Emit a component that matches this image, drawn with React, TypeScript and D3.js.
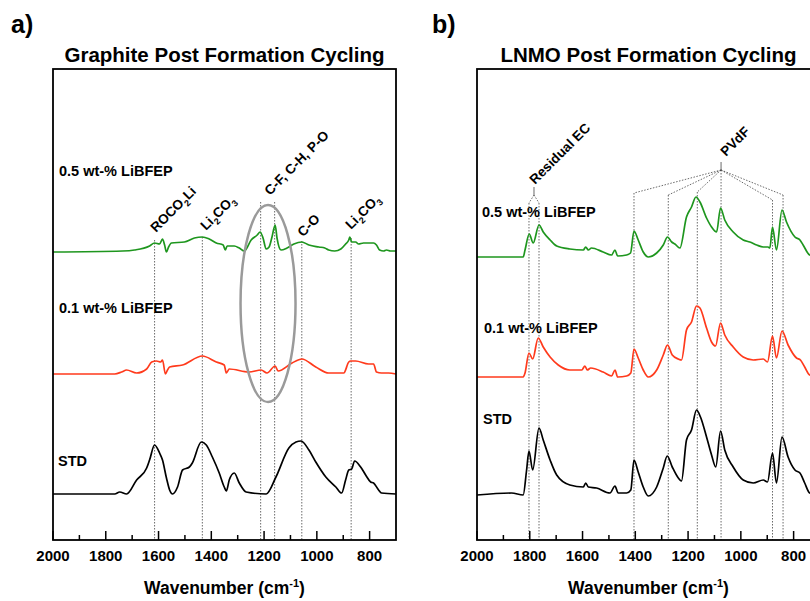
import React from "react";
import * as d3 from "d3";

// ---------- data (wavenumber cm-1, absorbance a.u. incl. stacking offset) ----------
const majorTicks = [2000, 1800, 1600, 1400, 1200, 1000, 800];
const minorTicks = [1900, 1700, 1500, 1300, 1100, 900];

const graphite05: [number, number][] = [
  [2000, 288], [1736, 289], [1691, 290], [1634, 294], [1615, 297], [1596, 296], [1585, 301], [1577, 295],
  [1570, 288], [1562, 293], [1551, 297], [1502, 298], [1464, 302], [1434, 303], [1408, 301], [1381, 297],
  [1355, 295], [1347, 290], [1340, 294], [1313, 294], [1294, 292], [1275, 289], [1249, 300], [1226, 305],
  [1215, 308], [1204, 302], [1192, 291], [1181, 293], [1170, 303], [1158, 315], [1151, 302], [1136, 290],
  [1113, 292], [1087, 296], [1057, 298], [1030, 295], [992, 293], [970, 292], [955, 290], [932, 289],
  [909, 291], [891, 296], [879, 300], [875, 303], [868, 298], [853, 298], [842, 296], [823, 297],
  [785, 297], [774, 295], [762, 290], [747, 289], [736, 290], [721, 289], [700, 289],
];
const graphite01: [number, number][] = [
  [2000, 166], [1766, 166], [1740, 168], [1721, 170], [1683, 167], [1645, 171], [1626, 178], [1608, 179],
  [1592, 178], [1585, 180], [1574, 166], [1566, 170], [1558, 173], [1509, 175], [1434, 184], [1381, 178],
  [1351, 175], [1343, 167], [1332, 171], [1257, 168], [1211, 170], [1189, 167], [1158, 174], [1147, 169],
  [1094, 177], [1057, 181], [1004, 173], [955, 167], [898, 167], [879, 178], [872, 179], [853, 179],
  [804, 176], [785, 176], [774, 168], [755, 167], [728, 167], [700, 166],
];
const graphiteStd: [number, number][] = [
  [2000, 46], [1766, 46], [1747, 48], [1721, 46], [1683, 60], [1645, 72], [1634, 80], [1615, 95],
  [1596, 87], [1585, 80], [1570, 62], [1558, 50], [1547, 46], [1528, 53], [1509, 70], [1483, 73],
  [1472, 77], [1438, 98], [1419, 95], [1396, 83], [1370, 67], [1351, 53], [1343, 49], [1332, 60],
  [1313, 67], [1294, 57], [1268, 48], [1192, 46], [1155, 63], [1106, 92], [1079, 98], [1060, 99],
  [1030, 90], [1004, 78], [966, 63], [928, 53], [906, 47], [891, 60], [879, 70], [868, 71], [857, 79],
  [834, 73], [815, 65], [796, 58], [785, 57], [766, 50], [755, 47], [700, 46],
];
const lnmo05: [number, number][] = [
  [2000, 283], [1825, 283], [1818, 290], [1802, 306], [1787, 297], [1765, 315], [1749, 308], [1723, 300],
  [1698, 294], [1648, 291], [1597, 290], [1588, 293], [1578, 290], [1566, 292], [1522, 288], [1490, 285],
  [1477, 290], [1467, 284], [1433, 285], [1418, 287], [1405, 309], [1389, 300], [1370, 288], [1351, 283],
  [1319, 287], [1294, 295], [1278, 303], [1262, 298], [1250, 296], [1231, 292], [1206, 323], [1187, 333],
  [1170, 343], [1155, 338], [1130, 322], [1111, 313], [1092, 308], [1077, 332], [1061, 320], [1029, 308],
  [991, 300], [966, 298], [940, 295], [915, 293], [897, 293], [890, 292], [880, 313], [865, 290],
  [844, 330], [827, 318], [795, 303], [776, 300], [764, 295], [739, 285], [700, 283],
];
const lnmo01: [number, number][] = [
  [2000, 163], [1825, 163], [1818, 167], [1803, 187], [1789, 181], [1768, 202], [1749, 193], [1723, 183],
  [1692, 175], [1648, 170], [1603, 170], [1591, 174], [1582, 170], [1569, 172], [1522, 168], [1490, 164],
  [1477, 170], [1467, 163], [1433, 164], [1417, 167], [1405, 191], [1389, 182], [1370, 170], [1351, 163],
  [1319, 170], [1294, 185], [1278, 195], [1260, 185], [1237, 181], [1225, 180], [1206, 210], [1187, 218],
  [1168, 234], [1155, 232], [1130, 212], [1111, 198], [1096, 194], [1077, 217], [1061, 205], [1029, 193],
  [991, 183], [953, 180], [915, 181], [899, 178], [880, 204], [865, 182], [844, 209], [821, 195],
  [789, 182], [774, 180], [758, 173], [739, 165], [700, 163],
];
const lnmoStd: [number, number][] = [
  [2000, 45], [1869, 47], [1825, 45], [1812, 70], [1803, 89], [1789, 70], [1765, 112], [1749, 100],
  [1723, 80], [1698, 65], [1648, 55], [1597, 53], [1588, 57], [1578, 53], [1547, 52], [1496, 47],
  [1477, 54], [1465, 47], [1433, 47], [1417, 50], [1405, 80], [1389, 68], [1370, 53], [1351, 44],
  [1319, 53], [1294, 72], [1279, 84], [1260, 73], [1237, 62], [1225, 59], [1206, 100], [1187, 110],
  [1168, 130], [1153, 123], [1130, 103], [1111, 85], [1095, 73], [1077, 109], [1061, 90], [1029, 73],
  [991, 60], [953, 57], [915, 60], [899, 58], [880, 87], [865, 57], [844, 103], [821, 83], [795, 70],
  [776, 67], [758, 57], [739, 47], [700, 45],
];

// annotation markers: [wavenumber, top of dotted guide (a.u.)]
const graphiteMarks: [number, number][] = [
  [1615, 300], [1434, 303], [1213, 338], [1160, 338], [1057, 299], [870, 302],
];
const lnmoResidualMarks: [number, number][] = [[1803, 337], [1765, 337]];
const lnmoPvdfMarks: [number, number][] = [
  [1405, 347], [1275, 345], [1165, 348], [880, 340], [840, 345],
];
const pvdfApex: [number, number] = [1075, 370];
const residualApex: [number, number] = [1784, 345];

const seriesNames = ["0.5 wt-% LiBFEP", "0.1 wt-% LiBFEP", "STD"];
const titles = ["Graphite Post Formation Cycling", "LNMO Post Formation Cycling"];

const GREEN = "#1e961e";
const RED = "#ff3a1c";
const BLACK = "#000";
const FONT = "Arial, 'Liberation Sans', Helvetica, sans-serif";

const TOP = 69;
const BOTTOM = 540;

const y = d3.scaleLinear().domain([0, 471]).range([BOTTOM, TOP]);

function Axis({ x }: { x: d3.ScaleLinear<number, number> }) {
  return (
    <g>
      {majorTicks.map((t) => (
        <g key={"M" + t}>
          <line x1={x(t)} x2={x(t)} y1={BOTTOM} y2={BOTTOM - 9} stroke="#000" strokeWidth={1.5} />
          <text x={x(t)} y={561} textAnchor="middle" fontSize={15} fontWeight="bold" fontFamily={FONT}>
            {t}
          </text>
        </g>
      ))}
      {minorTicks.map((t) => (
        <line key={"m" + t} x1={x(t)} x2={x(t)} y1={BOTTOM} y2={BOTTOM - 5} stroke="#000" strokeWidth={1.5} />
      ))}
      <text x={(x.range()[0] + x.range()[1]) / 2} y={594} textAnchor="middle" fontSize={17.5} fontWeight="bold" fontFamily={FONT}>
        Wavenumber (cm
        <tspan dy={-7} fontSize={11}>-1</tspan>
        <tspan dy={7}>)</tspan>
      </text>
    </g>
  );
}

function Guide({ x, w, top }: { x: d3.ScaleLinear<number, number>; w: number; top: number }) {
  return (
    <line x1={x(w)} x2={x(w)} y1={y(top)} y2={BOTTOM} stroke="#444" strokeWidth={0.8} strokeDasharray="1.5 1.5" />
  );
}

function Rot({ x0, y0, children }: { x0: number; y0: number; children: React.ReactNode }) {
  return (
    <text x={0} y={0} transform={`translate(${x0},${y0}) rotate(-45)`} fontSize={13.6} fontWeight="bold" fontFamily={FONT}>
      {children}
    </text>
  );
}

export default function App() {
  const xA = d3.scaleLinear().domain([2000, 700]).range([53, 396]);
  const xB = d3.scaleLinear().domain([2000, 700]).range([477, 820]);
  const lineA = d3.line<[number, number]>().x((d) => xA(d[0])).y((d) => y(d[1])).curve(d3.curveMonotoneX);
  const lineB = d3.line<[number, number]>().x((d) => xB(d[0])).y((d) => y(d[1])).curve(d3.curveMonotoneX);

  const labelStyle = { fontSize: 14.5, fontWeight: "bold" as const, fontFamily: FONT };

  return (
    <svg width={810} height={601} style={{ position: "absolute", left: 0, top: 0, background: "#fff" }}>
      <rect x={0} y={0} width={810} height={601} fill="#fff" />
      {/* panel tags and titles */}
      <text x={11} y={33} fontSize={25} fontWeight="bold" fontFamily={FONT}>a)</text>
      <text x={432} y={33} fontSize={25} fontWeight="bold" fontFamily={FONT}>b)</text>
      <text x={224.5} y={62} textAnchor="middle" fontSize={20.5} fontWeight="bold" fontFamily={FONT}>{titles[0]}</text>
      <text x={648.5} y={62} textAnchor="middle" fontSize={20.5} fontWeight="bold" fontFamily={FONT}>{titles[1]}</text>

      {/* ---------- panel a ---------- */}
      <g>
        {graphiteMarks.map(([w, t]) => <Guide key={w} x={xA} w={w} top={t} />)}
        <path d={lineA(graphiteStd) || ""} fill="none" stroke={BLACK} strokeWidth={1.7} />
        <path d={lineA(graphite01) || ""} fill="none" stroke={RED} strokeWidth={1.7} />
        <path d={lineA(graphite05) || ""} fill="none" stroke={GREEN} strokeWidth={1.7} />
        <ellipse cx={xA(1185)} cy={y(236.5)} rx={27.5} ry={98.5} fill="none" stroke="#9a9a9a" strokeWidth={2.5} />
        <text x={59} y={176} {...labelStyle}>{seriesNames[0]}</text>
        <text x={59} y={313} {...labelStyle}>{seriesNames[1]}</text>
        <text x={58} y={466} {...labelStyle}>{seriesNames[2]}</text>
        <Rot x0={156} y0={233}>
          ROCO<tspan dy={4} fontSize={9}>2</tspan><tspan dy={-4}>Li</tspan>
        </Rot>
        <Rot x0={206} y0={231}>
          Li<tspan dy={4} fontSize={9}>2</tspan><tspan dy={-4}>CO</tspan><tspan dy={4} fontSize={9}>3</tspan>
        </Rot>
        <Rot x0={270} y0={196}>C-F, C-H, P-O</Rot>
        <Rot x0={303} y0={237.5}>C-O</Rot>
        <Rot x0={351} y0={230}>
          Li<tspan dy={4} fontSize={9}>2</tspan><tspan dy={-4}>CO</tspan><tspan dy={4} fontSize={9}>3</tspan>
        </Rot>
        <rect x={53} y={TOP} width={343} height={BOTTOM - TOP} fill="none" stroke="#000" strokeWidth={1.8} />
        <Axis x={xA} />
      </g>

      {/* ---------- panel b ---------- */}
      <g>
        {lnmoResidualMarks.map(([w, t]) => <Guide key={w} x={xB} w={w} top={t} />)}
        {lnmoPvdfMarks.map(([w, t]) => <Guide key={w} x={xB} w={w} top={t} />)}
        <Guide x={xB} w={pvdfApex[0]} top={pvdfApex[1]} />
        {lnmoResidualMarks.map(([w, t]) => (
          <line key={"r" + w} x1={xB(residualApex[0])} y1={y(residualApex[1])} x2={xB(w)} y2={y(t)} stroke="#444" strokeWidth={0.8} strokeDasharray="1.5 1.5" />
        ))}
        <line x1={xB(residualApex[0])} x2={xB(residualApex[0])} y1={y(residualApex[1])} y2={y(residualApex[1] + 8)} stroke="#444" strokeWidth={0.8} />
        {lnmoPvdfMarks.map(([w, t]) => (
          <line key={"p" + w} x1={xB(pvdfApex[0])} y1={y(pvdfApex[1])} x2={xB(w)} y2={y(t)} stroke="#444" strokeWidth={0.8} strokeDasharray="1.5 1.5" />
        ))}
        <line x1={xB(pvdfApex[0])} x2={xB(pvdfApex[0])} y1={y(pvdfApex[1])} y2={y(pvdfApex[1] + 8)} stroke="#444" strokeWidth={0.8} />
        <path d={lineB(lnmoStd) || ""} fill="none" stroke={BLACK} strokeWidth={1.7} />
        <path d={lineB(lnmo01) || ""} fill="none" stroke={RED} strokeWidth={1.7} />
        <path d={lineB(lnmo05) || ""} fill="none" stroke={GREEN} strokeWidth={1.7} />
        <text x={482} y={217} {...labelStyle}>{seriesNames[0]}</text>
        <text x={484} y={333} {...labelStyle}>{seriesNames[1]}</text>
        <text x={483} y={424} {...labelStyle}>{seriesNames[2]}</text>
        <Rot x0={535} y0={185}>Residual EC</Rot>
        <Rot x0={726} y0={157}>PVdF</Rot>
        <rect x={477} y={TOP} width={343} height={BOTTOM - TOP} fill="none" stroke="#000" strokeWidth={1.8} />
        <Axis x={xB} />
      </g>
    </svg>
  );
}
